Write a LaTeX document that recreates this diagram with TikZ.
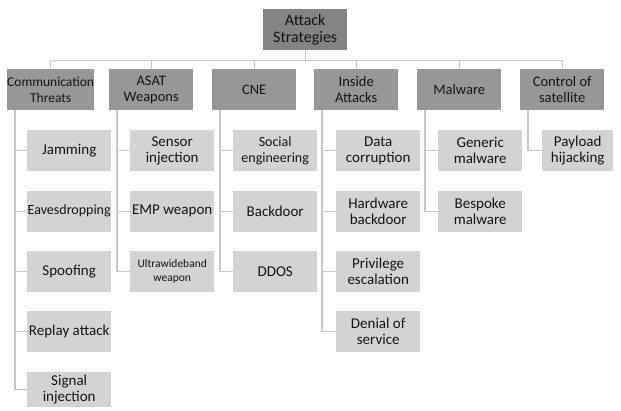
\documentclass[tikz,border=0pt]{standalone}
\usepackage{fontspec}
\setmainfont{Carlito}
\definecolor{topc}{HTML}{848484}
\definecolor{midc}{HTML}{979797}
\definecolor{leafc}{HTML}{D3D3D3}
\definecolor{linec}{HTML}{C8C8C8}
\definecolor{txt}{HTML}{141414}
\begin{document}
\begin{tikzpicture}[x=1pt,y=-1pt,
  box/.style={anchor=north west, inner sep=0pt, minimum width=84pt, minimum height=41pt, align=center, text=txt, font=\fontsize{15}{16}\selectfont},
  topbox/.style={box, fill=topc, font=\fontsize{16}{16.5}\selectfont},
  midbox/.style={box, fill=midc, font=\fontsize{14.5}{16}\selectfont},
  leafbox/.style={box, fill=leafc},
  conn/.style={draw=linec, line width=1.4pt},
  small/.style={font=\fontsize{14}{15.5}\selectfont},
  tiny/.style={font=\fontsize{11.5}{14}\selectfont}
]
\useasboundingbox (0,0) rectangle (621,410);
% top
\node[topbox] (top) at (263,9) {Attack\\Strategies};
% level 1
\node[midbox, font=\fontsize{13.5}{16}\selectfont] (comm) at (7,69) {Communication\\Threats};
\node[midbox] (asat) at (109,69) {ASAT\\Weapons};
\node[midbox] (cne) at (212,69) {CNE};
\node[midbox] (ins) at (314,69) {Inside\\Attacks};
\node[midbox] (mal) at (417,69) {Malware};
\node[midbox] (ctl) at (520,69) {Control of\\satellite};
% leaves: communication
\node[leafbox] (jam) at (27,130) {Jamming};
\node[leafbox, small] (eav) at (27,190.5) {Eavesdropping};
\node[leafbox] (spo) at (27,251) {Spoofing};
\node[leafbox] (rep) at (27,311) {Replay attack};
\node[leafbox, minimum height=35pt] (sig) at (27,372) {Signal\\injection};
% ASAT
\node[leafbox] (sen) at (130,130) {Sensor\\injection};
\node[leafbox] (emp) at (130,190.5) {EMP weapon};
\node[leafbox, tiny] (ult) at (130,251) {Ultrawideband\\weapon};
% CNE
\node[leafbox, small] (soc) at (233,130) {Social\\engineering};
\node[leafbox] (bac) at (233,190.5) {Backdoor};
\node[leafbox] (ddo) at (233,251) {DDOS};
% Inside
\node[leafbox] (dat) at (336,130) {Data\\corruption};
\node[leafbox] (hwb) at (336,190.5) {Hardware\\backdoor};
\node[leafbox] (pri) at (336,251) {Privilege\\escalation};
\node[leafbox] (den) at (336,311) {Denial of\\service};
% Malware
\node[leafbox] (gen) at (438,130) {Generic\\malware};
\node[leafbox] (bes) at (438,190.5) {Bespoke\\malware};
% Control
\node[leafbox, minimum width=71pt] (pay) at (542,130) {Payload\\hijacking};
% bus
\foreach \n in {comm,asat,cne,ins,mal,ctl}
  \draw[conn] (top.south) -- ++(0,10) -| (\n.north);
% trunks
\foreach \p/\c in {comm/jam,comm/eav,comm/spo,comm/rep,comm/sig,
                  asat/sen,asat/emp,asat/ult,
                  cne/soc,cne/bac,cne/ddo,
                  ins/dat,ins/hwb,ins/pri,ins/den,
                  mal/gen,mal/bes,
                  ctl/pay}
  \draw[conn] ([xshift=8pt]\p.south west) |- (\c.west);
\end{tikzpicture}
\end{document}
